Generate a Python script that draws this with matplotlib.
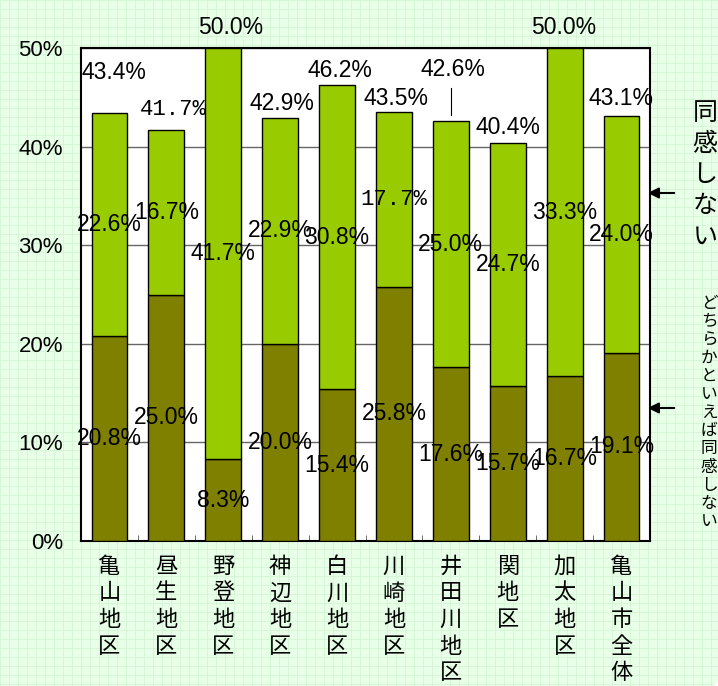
import numpy as np
import matplotlib
matplotlib.use("Agg")
import matplotlib.pyplot as plt
from matplotlib.patches import FancyBboxPatch

plt.rcParams['font.family'] = ['Liberation Sans', 'Noto Sans CJK JP', 'DejaVu Sans']

# data
districts = ["亀山地区", "昼生地区", "野登地区", "神辺地区", "白川地区",
             "川崎地区", "井田川地区", "関地区", "加太地区", "亀山市全体"]
somewhat_disagree = [20.8, 25.0, 8.3, 20.0, 15.4, 25.8, 17.6, 15.7, 16.7, 19.1]
disagree = [22.6, 16.7, 41.7, 22.9, 30.8, 17.7, 25.0, 24.7, 33.3, 24.0]
totals = [43.4, 41.7, 50.0, 42.9, 46.2, 43.5, 42.6, 40.4, 50.0, 43.1]

# where the total labels sit, in pixels (dx, dy) from top of bar
total_offsets = [(4, 41), (7, 20), (7, 21), (2, 15), (3, 15),
                 (2, 14), (2, 51), (0, 15), (-1, 21), (-1, 18)]

DARK = '#808000'
LIGHT = '#99CC00'
PT = 72 / 100  # px -> points

fig = plt.figure(figsize=(7.18, 6.86), dpi=100)
fig.patch.set_facecolor('white')

### background: graph-paper style panel
bg = fig.add_axes([0, 0, 1, 1], zorder=-10)
bg.set_xlim(0, 718)
bg.set_ylim(0, 686)
bg.axis('off')
panel = FancyBboxPatch((-40, -4), 762, 730, boxstyle='round,pad=0,rounding_size=25',
                       facecolor='#E8FFE8', edgecolor='none')
bg.add_patch(panel)
for gx in np.arange(0, 730, 9):
    ln = bg.plot([gx, gx], [-10, 700], color='#D4F5D4', lw=0.6)[0]
    ln.set_clip_path(panel)
for gy in np.arange(686, -10, -9):
    ln = bg.plot([-10, 730], [gy, gy], color='#D4F5D4', lw=0.6)[0]
    ln.set_clip_path(panel)

### main chart
ax = fig.add_axes([81 / 718, 145 / 686, 569 / 718, 493 / 686])
ax.set_facecolor('white')
x = np.arange(len(districts))
w = 0.63

ax.bar(x, somewhat_disagree, w, color=DARK, edgecolor='black', lw=1, zorder=3)
ax.bar(x, disagree, w, bottom=somewhat_disagree, color=LIGHT, edgecolor='black', lw=1, zorder=3)

ax.set_xlim(-0.5, len(districts) - 0.5)
ax.set_ylim(0, 50)
ax.set_yticks(np.arange(0, 51, 10))
ax.set_yticklabels([f"{v}%" for v in range(0, 51, 10)], fontsize=16)
ax.yaxis.grid(True, color='#666666', lw=1, zorder=0)
ax.tick_params(axis='y', length=0, pad=13)

ax.set_xticks(x)
ax.set_xticklabels(["\n".join(d) for d in districts], fontsize=16,
                   family=['Noto Sans CJK JP'], linespacing=1.2, va='top')
ax.tick_params(axis='x', length=0, pad=10)
ax.set_xticks(np.arange(0.5, len(districts) - 0.5, 1), minor=True)
ax.tick_params(axis='x', which='minor', direction='in', length=4, color='#555555')
for s in ax.spines.values():
    s.set_linewidth(1.5)
    s.set_color('black')

thin = {'family': ['Liberation Mono'], 'fontsize': 16}
norm = {'fontsize': 16.5}

for i in range(len(districts)):
    b = somewhat_disagree[i]
    t = disagree[i]
    ax.text(x[i], b / 2, f"{b:.1f}%", ha='center', va='center', zorder=5, **norm)
    style = thin if i == 5 else norm
    ax.text(x[i], b + t / 2, f"{t:.1f}%", ha='center', va='center', zorder=5, **style)
    dx, dy = total_offsets[i]
    style = thin if i == 1 else norm
    ax.annotate(f"{totals[i]:.1f}%", (x[i], totals[i]), xytext=(dx * PT, dy * PT),
                textcoords='offset points', ha='center', va='center',
                annotation_clip=False, zorder=5, **style)

# leader line for 井田川地区 total
ax.plot([x[6], x[6]], [43.2, 45.9], color='black', lw=0.8, zorder=5)

### side legend (vertical text + arrows)
fig.text(705 / 718, 1 - 100 / 686, "\n".join("同感しない"), ha='center', va='top',
         fontsize=18, family=['Noto Sans CJK JP'], linespacing=1.25)
fig.text(709 / 718, 1 - 295 / 686, "\n".join("どちらかといえば同感しない"), ha='center', va='top',
         fontsize=12, family=['Noto Sans CJK JP'], linespacing=1.09)
for yy in (193, 408):
    ax.annotate('', xy=(645, 686 - yy), xytext=(677, 686 - yy),
                xycoords='figure pixels', textcoords='figure pixels',
                arrowprops=dict(arrowstyle='-|>', color='black', lw=1.5, mutation_scale=16))

fig.savefig('out.png', dpi=100)
